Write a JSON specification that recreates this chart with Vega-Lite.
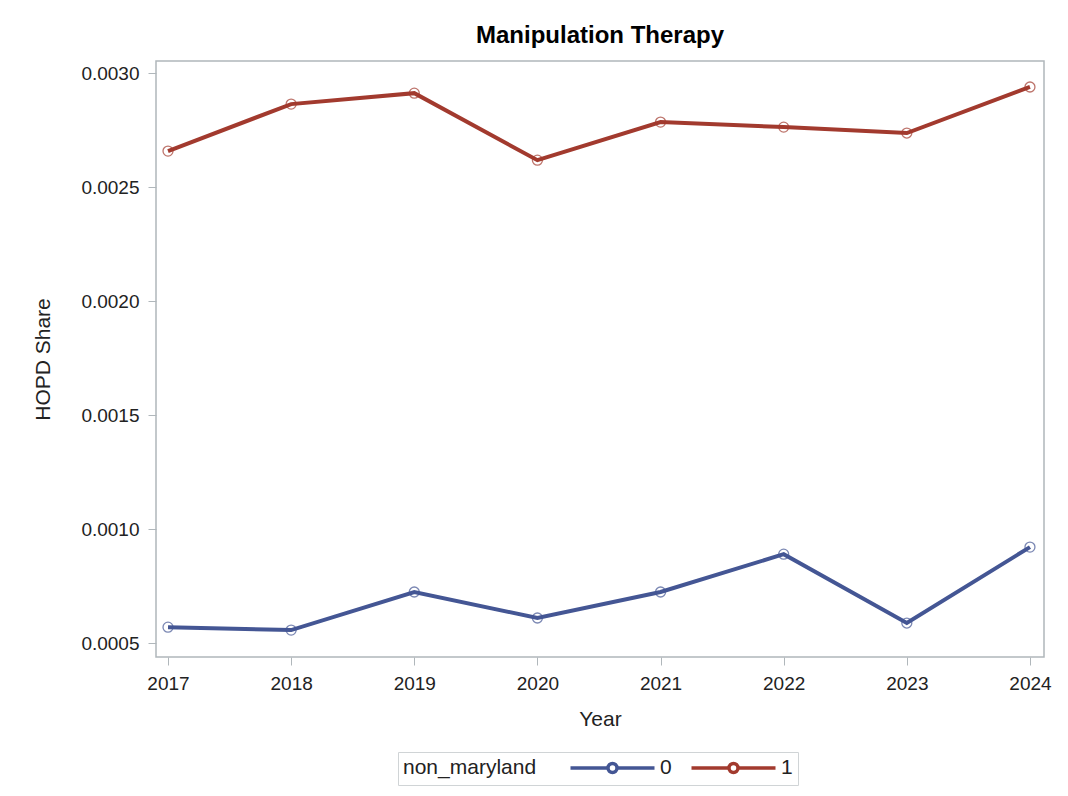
{
  "$schema": "https://vega.github.io/schema/vega-lite/v6.json",
  "width": 888,
  "height": 596,
  "autosize": {"type": "none"},
  "padding": {"left": 156, "top": 61, "right": 24, "bottom": 139},
  "background": "white",
  "title": {"text": "Manipulation Therapy", "fontSize": 24, "fontWeight": "bold", "font": "Liberation Sans", "color": "#000000", "anchor": "middle", "offset": 13},
  "data": {"values": [
    {"year": 2017, "group": "0", "share": 0.000570},
    {"year": 2018, "group": "0", "share": 0.000557},
    {"year": 2019, "group": "0", "share": 0.000724},
    {"year": 2020, "group": "0", "share": 0.000610},
    {"year": 2021, "group": "0", "share": 0.000724},
    {"year": 2022, "group": "0", "share": 0.000890},
    {"year": 2023, "group": "0", "share": 0.000588},
    {"year": 2024, "group": "0", "share": 0.000921},
    {"year": 2017, "group": "1", "share": 0.002658},
    {"year": 2018, "group": "1", "share": 0.002864},
    {"year": 2019, "group": "1", "share": 0.002912},
    {"year": 2020, "group": "1", "share": 0.002618},
    {"year": 2021, "group": "1", "share": 0.002785},
    {"year": 2022, "group": "1", "share": 0.002763},
    {"year": 2023, "group": "1", "share": 0.002737},
    {"year": 2024, "group": "1", "share": 0.002939}
  ]},
  "encoding": {
    "x": {"field": "year", "type": "quantitative", "scale": {"domain": [2016.9025, 2024.114], "nice": false, "zero": false},
      "axis": {"title": "Year", "values": [2017, 2018, 2019, 2020, 2021, 2022, 2023, 2024], "format": "d", "grid": false, "domain": false, "tickColor": "#b0b7bb", "tickSize": 8, "labelPadding": 9, "titlePadding": 15}},
    "y": {"field": "share", "type": "quantitative", "scale": {"domain": [0.000439, 0.003053], "nice": false, "zero": false},
      "axis": {"title": "HOPD Share", "values": [0.0005, 0.001, 0.0015, 0.002, 0.0025, 0.003], "format": ".4f", "grid": false, "domain": false, "tickColor": "#b0b7bb", "tickSize": 8, "labelPadding": 9, "titlePadding": 27}},
    "color": {"field": "group", "type": "nominal", "scale": {"domain": ["0", "1"], "range": ["#445694", "#A23A2E"]},
      "legend": {"title": "non_maryland", "orient": "none", "legendX": 242, "legendY": 691, "direction": "horizontal", "titleOrient": "left", "titlePadding": 30,
        "symbolType": "M-1.4,0H6.1M7.9,0H15.4M7.9,0A0.9,0.9 0 1,1 6.1,0A0.9,0.9 0 1,1 7.9,0",
        "symbolSize": 100, "symbolStrokeWidth": 3.5, "symbolFillColor": "transparent", "symbolOpacity": 1, "strokeColor": "#d0d4d6", "padding": 5, "columnPadding": 12, "labelOffset": 72}}
  },
  "layer": [
    {"mark": {"type": "line", "strokeWidth": 4}},
    {"mark": {"type": "point", "shape": "circle", "filled": false, "size": 100, "strokeWidth": 1.3, "opacity": 0.7}}
  ],
  "config": {
    "font": "Liberation Sans",
    "view": {"stroke": "#b0b7bb", "strokeWidth": 1.5},
    "axis": {"labelFontSize": 19, "titleFontSize": 21, "labelColor": "#222222", "titleColor": "#222222", "titleFontWeight": "normal", "labelFont": "Liberation Sans", "titleFont": "Liberation Sans"},
    "legend": {"labelFontSize": 21, "titleFontSize": 21, "titleFontWeight": "normal", "labelColor": "#222222", "titleColor": "#222222", "titleFont": "Liberation Sans", "labelFont": "Liberation Sans"}
  }
}
